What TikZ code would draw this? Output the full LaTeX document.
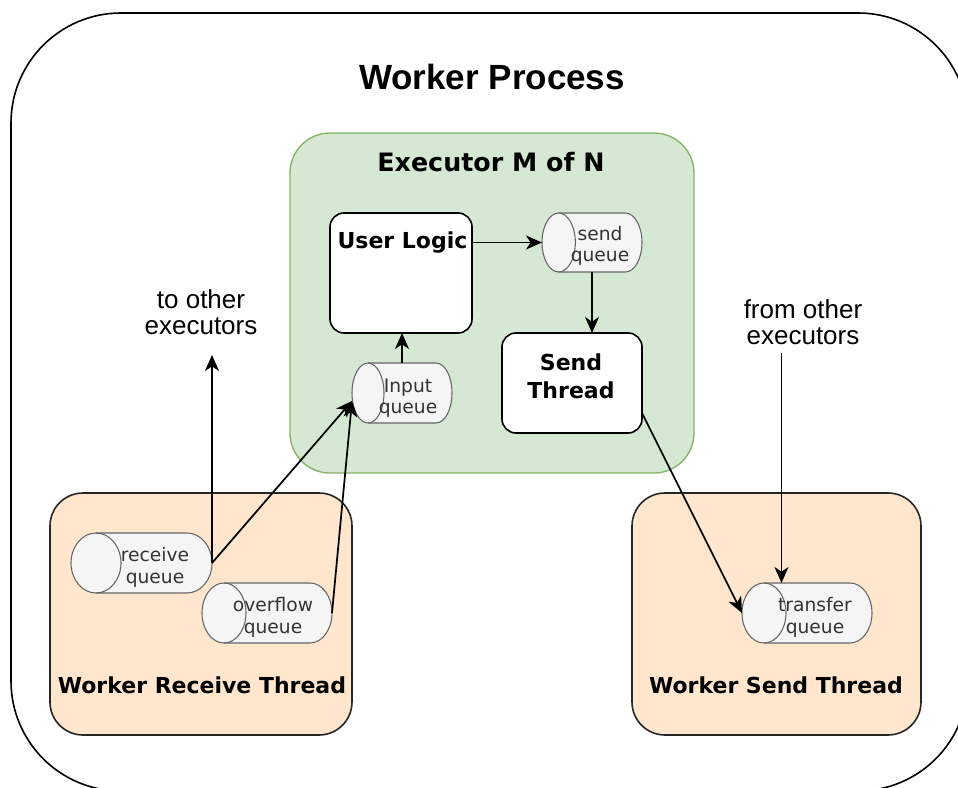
\documentclass[tikz,border=0pt]{standalone}
\usepackage{fontspec}
\setmainfont{DejaVu Sans}
\newfontfamily\arialf{Liberation Sans}
\usetikzlibrary{arrows.meta,calc}
\definecolor{grfill}{HTML}{D5E8D4}
\definecolor{grline}{HTML}{82B366}
\definecolor{orfill}{HTML}{FFE6CC}
\definecolor{qfill}{HTML}{F5F5F5}
\definecolor{qline}{HTML}{666666}
\definecolor{qtext}{HTML}{333333}
\newcommand{\qcyl}[5]{%
  \node[minimum width=#3, minimum height=#4, inner sep=0pt, outer sep=0pt] (#1) at #2 {};
  \draw[qshape] ([xshift=#5]#1.north west) -- ([xshift=-#5]#1.north east)
     arc[start angle=90,end angle=-90,x radius=#5,y radius=#4/2]
     -- ([xshift=#5]#1.south west)
     arc[start angle=270,end angle=90,x radius=#5,y radius=#4/2] -- cycle;
  \draw[qshape, fill=none] ([xshift=#5]#1.north west)
     arc[start angle=90,end angle=-90,x radius=#5,y radius=#4/2];
}
\begin{document}
\begin{tikzpicture}[x=0.75pt,y=-0.75pt,
  qshape/.style={draw=qline, fill=qfill, line width=0.8pt},
  wbox/.style={draw=black, fill=white, line width=1.2pt, rounded corners=10.5pt,
     inner sep=0pt, outer sep=0pt},
  obox/.style={draw=black!85, fill=orfill, line width=1.2pt, rounded corners=24.75pt,
     inner sep=0pt, outer sep=0pt, minimum height=181.5pt},
  qlabel/.style={text=qtext, align=center, inner sep=0pt,
     font=\fontsize{14pt}{16pt}\selectfont},
  btitle/.style={inner sep=0pt, font=\bfseries\fontsize{16.5pt}{21pt}\selectfont},
  alabel/.style={inner sep=0pt, align=center, font=\arialf\fontsize{19.5pt}{20pt}\selectfont},
  arr/.style={-{Stealth[length=12pt,width=10.5pt,inset=3.5pt]}, line width=1.3pt}
]
\useasboundingbox (0,0) rectangle (958,788);
\fill[white] (0,0) rectangle (958,788);
\clip (0,0) rectangle (958,788);

% outer process
\node[draw=black, line width=1.2pt, rounded corners=82.5pt, minimum width=717.75pt,
  minimum height=583.5pt, inner sep=0pt] (proc) at (489.5,402) {};
\node[anchor=base, inner sep=0pt, font=\arialf\bfseries\fontsize{26.25pt}{30pt}\selectfont]
  (proctitle) at (492,90) {Worker Process};

% executor
\node[draw=grline, fill=grfill, line width=1pt, rounded corners=30pt, minimum width=303pt,
  minimum height=255pt, inner sep=0pt] (exec) at (492,303) {};
\node[anchor=base, inner sep=0pt, font=\bfseries\fontsize{19pt}{22pt}\selectfont]
  (exectitle) at (491,172) {Executor M of N};

\node[wbox, minimum width=106.5pt, minimum height=90pt] (ul) at (401,273) {};
\node[btitle, anchor=base] (ultitle) at (402.5,249) {User Logic};

\node[wbox, minimum width=105pt, minimum height=75pt] (st) at (572,383) {};
\node[btitle, align=center] (sttitle) at (571,376) {Send\\Thread};

\qcyl{sendq}{(592,242.5)}{75pt}{44.25pt}{12.5pt}
\node[qlabel] (sendqt) at (600,246) {send\\queue};
\qcyl{inputq}{(402,393)}{75pt}{45pt}{12pt}
\node[qlabel] (inputqt) at (408,398) {Input\\queue};

% worker receive thread
\node[obox, minimum width=226.5pt] (wrt) at (201,614) {};
\node[btitle, anchor=base] (wrttitle) at (202,693) {Worker Receive Thread};
\qcyl{recvq}{(141.5,563)}{105.75pt}{45pt}{18.75pt}
\node[qlabel] (recvqt) at (155,567.5) {receive\\queue};
\qcyl{ofq}{(267,613)}{97.5pt}{45pt}{16.5pt}
\node[qlabel] (ofqt) at (273,617.5) {overflow\\queue};

% worker send thread
\node[obox, minimum width=216.75pt] (wst) at (776.5,614) {};
\node[btitle, anchor=base] (wsttitle) at (776,693) {Worker Send Thread};
\qcyl{trq}{(807,613)}{97.5pt}{45pt}{16.5pt}
\node[qlabel] (trqt) at (815,617.5) {transfer\\queue};

% external labels
\node[alabel] (tolabel) at (201,312.3) {to other\\executors};
\node[alabel] (fromlabel) at (803,322.3) {from other\\executors};
\coordinate (toother) at (212,355);
\coordinate (fromother) at (781.5,353);

% connectors
\draw[arr] (ul.east |- sendq.west) -- (sendq.west);
\draw[arr] (sendq.south) -- (sendq.south |- st.north);
\draw[arr] (inputq.north) -- (inputq.north |- ul.south);
\draw[arr] (recvq.east) -- ([yshift=-6pt]inputq.west);
\draw[arr] (recvq.east) -- (toother);
\draw[arr] (ofq.east) -- ([yshift=-6pt]inputq.west);
\draw[arr] ([yshift=15pt]st.south east) -- (trq.west);
\draw[arr] (fromother) -- (fromother |- trq.north);
\end{tikzpicture}
\end{document}
